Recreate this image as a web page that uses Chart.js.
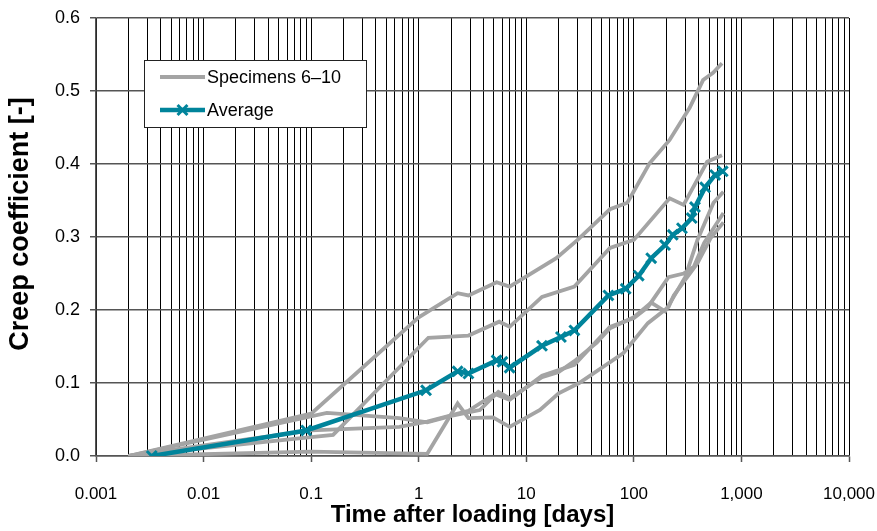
<!DOCTYPE html>
<html>
<head>
<meta charset="utf-8">
<script src="https://cdn.jsdelivr.net/npm/chart.js@4.4.1/dist/chart.umd.min.js"></script>
<style>
  html, body { margin: 0; padding: 0; background: #fff; }
  #wrap { width: 877px; height: 531px; }
</style>
</head>
<body>
<div id="wrap"><canvas id="creep"></canvas></div>
<script>
// axis ticks
const decades = [0.001, 0.01, 0.1, 1, 10, 100, 1000, 10000];
const decadeLabels = ['0.001', '0.01', '0.1', '1', '10', '100', '1,000', '10,000'];
const yTicks = [0, 0.1, 0.2, 0.3, 0.4, 0.5, 0.6];

// creep coefficient vs. time after loading [days]
const specimen6 = [[0.002, 0], [0.1, 0.058], [1, 0.19], [2.3, 0.223], [2.9, 0.22], [5.3, 0.238], [7, 0.232],
  [19, 0.271], [30, 0.296], [60, 0.338], [87, 0.347], [140, 0.401], [215, 0.433], [330, 0.477],
  [440, 0.515], [545, 0.525], [660, 0.538]];
const specimen7 = [[0.002, 0], [0.1, 0.026], [0.16, 0.029], [1.23, 0.162], [2.9, 0.165], [5.6, 0.184], [7, 0.177],
  [14, 0.218], [28, 0.232], [60, 0.285], [100, 0.296], [215, 0.353], [290, 0.344], [480, 0.403], [660, 0.412]];
const specimen8 = [[0.002, 0], [0.14, 0.059], [0.66, 0.052], [1.2, 0.046], [2.0, 0.055], [3.7, 0.063], [5.5, 0.088],
  [7, 0.079], [14, 0.108], [20, 0.115], [28, 0.13], [45, 0.155], [60, 0.175], [100, 0.19], [145, 0.21],
  [195, 0.198], [250, 0.225], [300, 0.245], [390, 0.296], [550, 0.347], [680, 0.362]];
const specimen9 = [[0.002, 0], [0.1, 0.035], [0.66, 0.04], [1.2, 0.047], [2.9, 0.062], [5.1, 0.085], [7, 0.077],
  [14, 0.11], [28, 0.125], [60, 0.177], [100, 0.189], [135, 0.204], [210, 0.245], [290, 0.25],
  [360, 0.259], [450, 0.292], [680, 0.333]];
const specimen10 = [[0.002, 0], [0.1, 0.006], [1.2, 0.003], [2.3, 0.072], [2.9, 0.052], [4.9, 0.053], [7, 0.04],
  [13.4, 0.063], [20, 0.086], [31, 0.1], [80, 0.141], [135, 0.182], [210, 0.204], [235, 0.22],
  [390, 0.264], [520, 0.299], [680, 0.32]];
const average = [[0.0033, 0], [0.09, 0.035], [1.17, 0.09], [2.3, 0.116], [2.9, 0.113], [5.3, 0.131], [6, 0.129],
  [7, 0.121], [14, 0.151], [21, 0.163], [28, 0.172], [58, 0.22], [84, 0.229], [111, 0.247], [145, 0.271],
  [195, 0.289], [230, 0.303], [280, 0.312], [345, 0.326], [370, 0.341], [460, 0.368], [570, 0.385], [670, 0.39]];

const specimens = [specimen6, specimen7, specimen8, specimen9, specimen10];
const grey = '#a4a4a4';
const teal = '#00849b';
const font = "'Liberation Sans', Arial, sans-serif";

const toPoints = arr => arr.map(([x, y]) => ({ x, y }));
const isDecade = v => decades.some(d => Math.abs(v / d - 1) < 1e-6);

const datasets = [{
  label: 'Average',
  data: toPoints(average),
  borderColor: teal,
  backgroundColor: teal,
  borderWidth: 4.5,
  pointStyle: 'crossRot',
  pointRadius: 7,
  pointBorderWidth: 3,
  pointBorderColor: teal,
  tension: 0
}].concat(specimens.map((s, i) => ({
  label: 'Specimen ' + (i + 6),
  data: toPoints(s),
  borderColor: grey,
  borderWidth: 3.8,
  pointRadius: 0,
  tension: 0
})));

// legend box inside the plot, top left
const insideLegend = {
  id: 'insideLegend',
  afterDraw(chart) {
    const { ctx, chartArea } = chart;
    const x = chartArea.left + 48, y = chartArea.top + 42, w = 222, h = 67;
    ctx.save();
    ctx.fillStyle = '#fff';
    ctx.fillRect(x, y, w, h);
    ctx.strokeStyle = '#222';
    ctx.lineWidth = 1;
    ctx.strokeRect(x + 0.5, y + 0.5, w, h);

    const lx0 = x + 16, lx1 = x + 61, tx = x + 63;
    const row1 = y + 17, row2 = y + 50;
    ctx.lineCap = 'butt';
    ctx.strokeStyle = grey;
    ctx.lineWidth = 3.8;
    ctx.beginPath(); ctx.moveTo(lx0, row1); ctx.lineTo(lx1, row1); ctx.stroke();

    ctx.strokeStyle = teal;
    ctx.lineWidth = 4.5;
    ctx.beginPath(); ctx.moveTo(lx0, row2); ctx.lineTo(lx1, row2); ctx.stroke();
    const mx = (lx0 + lx1) / 2, r = 7 * Math.SQRT1_2;
    ctx.lineWidth = 3;
    ctx.beginPath();
    ctx.moveTo(mx - r, row2 - r); ctx.lineTo(mx + r, row2 + r);
    ctx.moveTo(mx + r, row2 - r); ctx.lineTo(mx - r, row2 + r);
    ctx.stroke();

    ctx.fillStyle = '#000';
    ctx.font = '18px ' + font;
    ctx.textBaseline = 'middle';
    ctx.textAlign = 'left';
    ctx.fillText('Specimens 6\u201310', tx, row1 + 1);
    ctx.fillText('Average', tx, row2 + 1);
    ctx.restore();
  }
};

// y-axis title, set a little above the middle of the axis
const yTitle = {
  id: 'yTitle',
  afterDraw(chart) {
    const { ctx } = chart;
    ctx.save();
    ctx.translate(21, 224);
    ctx.rotate(-Math.PI / 2);
    ctx.fillStyle = '#000';
    ctx.font = 'bold 27px ' + font;
    ctx.textAlign = 'center';
    ctx.textBaseline = 'middle';
    ctx.fillText('Creep coefficient [-]', 0, 0);
    ctx.restore();
  }
};

new Chart(document.getElementById('creep'), {
  type: 'line',
  data: { datasets },
  plugins: [insideLegend, yTitle],
  options: {
    responsive: true,
    maintainAspectRatio: false,
    animation: false,
    layout: { padding: { top: 18, right: 28, left: 0, bottom: 0 } },
    plugins: {
      legend: { display: false },
      tooltip: { enabled: false }
    },
    scales: {
      x: {
        type: 'logarithmic',
        min: 0.001,
        max: 10000,
        afterBuildTicks(scale) {
          const ticks = [];
          decades.slice(0, -1).forEach(d => {
            for (let k = 1; k <= 9; k++) ticks.push({ value: +(k * d).toPrecision(6) });
          });
          ticks.push({ value: 10000 });
          scale.ticks = ticks;
        },
        afterFit(scale) {
          scale.height = 75;
          scale.paddingLeft = 0;
          scale.paddingRight = 0;
        },
        ticks: {
          autoSkip: false,
          maxRotation: 0,
          padding: 22,
          color: '#000',
          font: { family: font, size: 17 },
          callback(v) {
            const i = decades.findIndex(d => Math.abs(v / d - 1) < 1e-6);
            return i >= 0 ? decadeLabels[i] : '';
          }
        },
        grid: {
          color: '#000',
          lineWidth: 1,
          tickLength: 6,
          tickColor: c => (isDecade(c.tick.value) ? '#555' : 'rgba(0,0,0,0)'),
          tickWidth: 1.5
        },
        border: { color: '#555', width: 1.5 },
        title: {
          display: true,
          text: 'Time after loading [days]',
          color: '#000',
          font: { family: font, size: 24, weight: 'bold' },
          padding: { top: 0, bottom: 1 }
        }
      },
      y: {
        type: 'linear',
        min: 0,
        max: 0.6,
        afterBuildTicks(scale) { scale.ticks = yTicks.map(v => ({ value: v })); },
        afterFit(scale) {
          scale.width = 96;
          scale.paddingTop = 0;
          scale.paddingBottom = 0;
        },
        ticks: {
          padding: 10,
          color: '#000',
          font: { family: font, size: 18 },
          callback: v => v.toFixed(1)
        },
        grid: {
          color: '#555',
          lineWidth: 1.5,
          tickLength: 6,
          tickColor: '#555'
        },
        border: { color: '#555', width: 1.5 }
      }
    }
  }
});
</script>
</body>
</html>
